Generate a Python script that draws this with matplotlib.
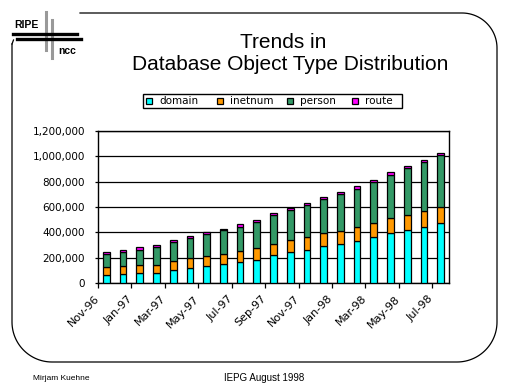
import numpy as np
import matplotlib
matplotlib.use("Agg")
import matplotlib.pyplot as plt
import matplotlib.transforms as mtransforms
from matplotlib.patches import Rectangle

plt.rcParams['font.family'] = ['Liberation Sans', 'DejaVu Sans']

# ---------- Data ----------
months = ["Nov-96", "Dec-96", "Jan-97", "Feb-97", "Mar-97", "Apr-97", "May-97",
          "Jun-97", "Jul-97", "Aug-97", "Sep-97", "Oct-97", "Nov-97", "Dec-97",
          "Jan-98", "Feb-98", "Mar-98", "Apr-98", "May-98", "Jun-98", "Jul-98"]
domain = [63000, 71000, 79000, 79000, 103000, 118000, 134000, 150000, 166000,
          182000, 221000, 245000, 261000, 292000, 308000, 332000, 363000,
          395000, 418000, 442000, 474000]
inetnum = [66000, 66000, 63000, 66000, 71000, 77000, 79000, 79000, 87000,
           97000, 87000, 94000, 102000, 103000, 100000, 110000, 111000,
           118000, 119000, 126000, 126000]
person = [100000, 108000, 118000, 139000, 150000, 163000, 174000, 189000,
          189000, 203000, 229000, 237000, 253000, 268000, 295000, 300000,
          323000, 340000, 371000, 387000, 411000]
route = [18000, 15000, 27000, 19000, 15000, 13000, 16000, 11000, 26000,
         18000, 16000, 16000, 16000, 16000, 15000, 24000, 16000, 23000,
         16000, 16000, 15000]

names = ["domain", "inetnum", "person", "route"]
colors = ["#00FFFF", "#FF9900", "#339966", "#FF00FF"]
values = [domain, inetnum, person, route]

W, H = 512, 384
fig = plt.figure(figsize=(W / 100, H / 100), dpi=100)
fig.patch.set_facecolor("white")

# ---------- Slide decoration (pixel coordinates) ----------
deco = fig.add_axes([0, 0, 1, 1])
deco.set_xlim(0, W)
deco.set_ylim(H, 0)
deco.axis("off")

def arc(cx, cy, r, a0, a1):
    t = np.radians(np.linspace(a0, a1, 30))
    return list(cx + r * np.cos(t)), list(cy + r * np.sin(t))

fx, fy = [80, 462], [13, 13]
for cx, cy, r, a0, a1, nx, ny in [(462, 48, 35, -90, 0, 497, 322),
                                  (457, 322, 40, 0, 90, 52, 362),
                                  (52, 322, 40, 90, 180, 12, 44)]:
    px, py = arc(cx, cy, r, a0, a1)
    fx += px + [nx]
    fy += py + [ny]
deco.plot(fx, fy, color="black", lw=0.9)
deco.plot([12, 13.5], [44, 40], color="black", lw=0.9)

# logo
deco.plot([46, 46], [12, 50], color="#999999", lw=2.2)
deco.plot([52, 52], [20, 58], color="#999999", lw=2.2)
deco.plot([13, 77], [34, 34], color="black", lw=2.4)
deco.plot([17, 81], [39, 39], color="black", lw=2.4)
deco.text(14, 25, "RIPE", fontsize=7.5, fontweight="bold", ha="left", va="center")
deco.text(58, 51, "ncc", fontsize=7.5, fontweight="bold", ha="left", va="center")

# titles
deco.text(283, 42, "Trends in", fontsize=15, ha="center", va="center")
deco.text(290, 64, "Database Object Type Distribution", fontsize=15,
          ha="center", va="center")

# footer
deco.text(33, 378, "Mirjam Kuehne", fontsize=6, ha="left", va="center")
deco.text(264, 378, "IEPG August 1998", fontsize=7, ha="center", va="center")

# legend
deco.add_patch(Rectangle((143, 94), 259, 14, facecolor="white",
                         edgecolor="black", lw=1.0))
for sx, name, col in zip([146, 217, 287, 352], names, colors):
    deco.add_patch(Rectangle((sx, 98), 6, 6, facecolor=col,
                             edgecolor="black", lw=0.9))
    deco.text(sx + 13, 101.5, name, fontsize=7.5, family="DejaVu Sans",
              ha="left", va="center")

# ---------- Chart ----------
left, right, top, bottom = 98, 449, 131, 283
ax = fig.add_axes([left / W, 1 - bottom / H, (right - left) / W, (bottom - top) / H])
x = np.arange(len(months))
base = np.zeros(len(months))
for name, vals, col in zip(names, values, colors):
    ax.bar(x, vals, width=0.4, bottom=base, color=col, edgecolor="black",
           linewidth=0.9, label=name, zorder=3)
    base = base + np.array(vals)

ax.set_xlim(-0.5, len(months) - 0.5)
ax.set_ylim(0, 1200000)
yt = np.arange(0, 1200001, 200000)
ax.set_yticks(yt)
ax.set_yticklabels([f"{v:,}" for v in yt], fontsize=7.5, family="DejaVu Sans")
ax.yaxis.grid(True, color="black", lw=0.9, zorder=0)
ax.set_xticks(np.arange(-0.5, len(months) - 0.5, 2))
ax.set_xticklabels([])

# rotated category labels, every other month
offset = mtransforms.ScaledTranslation(-9 / 100, -14 / 100, fig.dpi_scale_trans)
for i in x[::2]:
    ax.text(i, 0, months[i], transform=ax.get_xaxis_transform() + offset,
            rotation=45, rotation_mode="anchor", ha="right", va="center",
            fontsize=8, family="DejaVu Sans")

ax.tick_params(axis="x", which="major", length=3.6, width=0.9, direction="out")
ax.tick_params(axis="y", length=2.2, width=0.9, direction="out", pad=7)
for s in ax.spines.values():
    s.set_linewidth(1.0)
    s.set_color("black")

fig.savefig("out.png", dpi=100, facecolor="white")
